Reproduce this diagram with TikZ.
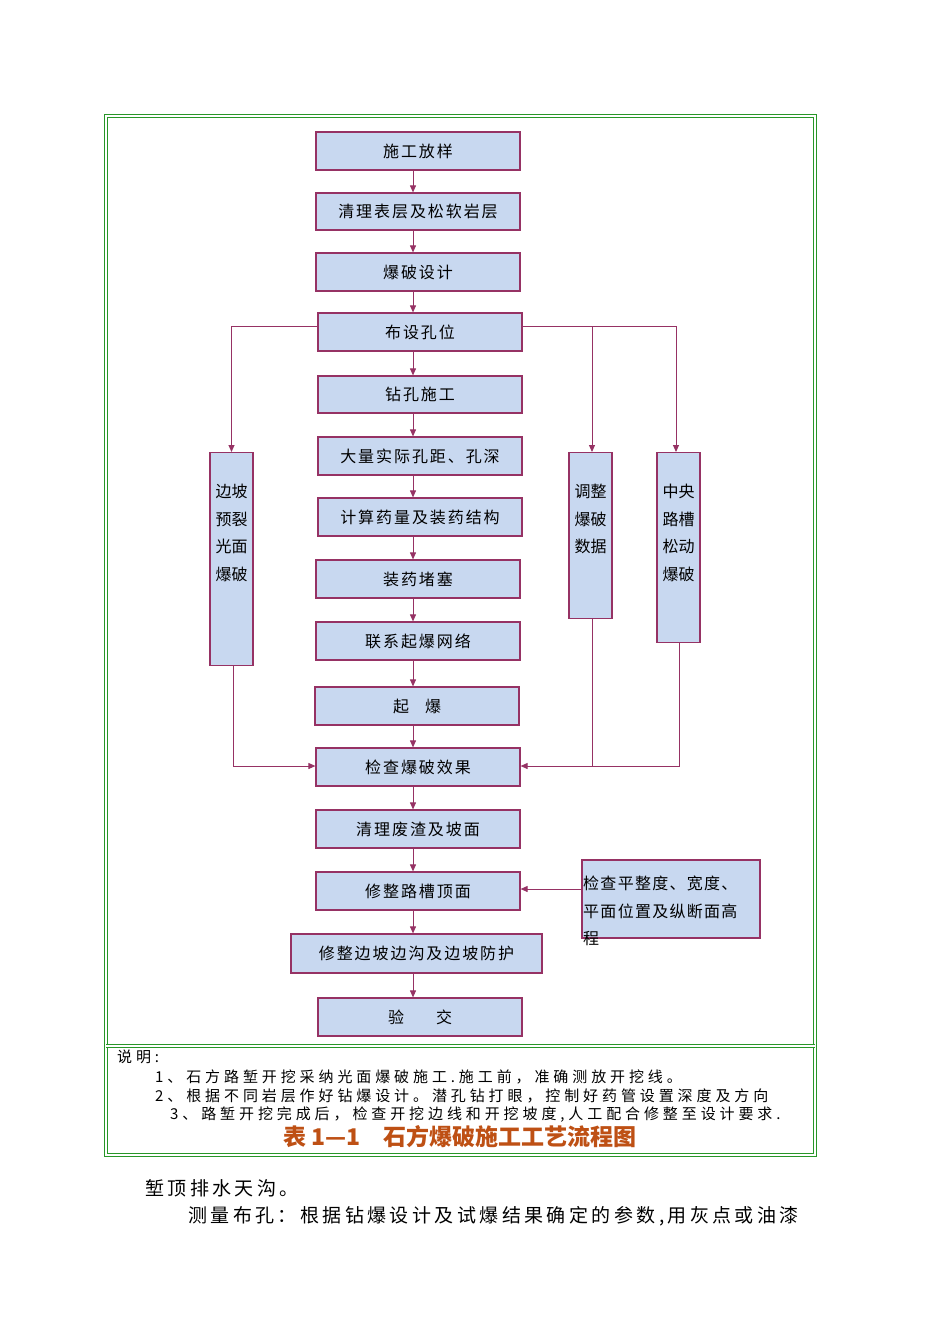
\documentclass[tikz,border=0pt]{standalone}
\usepackage{fontspec}
\setmainfont{Noto Sans CJK SC}
\usetikzlibrary{arrows.meta}
\definecolor{ln}{RGB}{150,50,100}
\definecolor{bf}{RGB}{200,216,240}
\definecolor{gr}{RGB}{40,150,40}
\definecolor{tt}{RGB}{190,80,20}
\begin{document}
\begin{tikzpicture}[x=1pt,y=-1pt,
 bx/.style={draw=ln,line width=1.2pt,fill=bf,font=\fontsize{16}{18}\selectfont\addfontfeature{LetterSpace=12}},
 vt/.style={align=center,font=\fontsize{16}{27.5}\selectfont,anchor=north,inner sep=0pt},
 ar/.style={draw=ln,line width=1pt,-{Triangle[length=7pt,width=6pt]}},
 ln/.style={draw=ln,line width=1pt},
 tx/.style={anchor=west,inner sep=0pt,font=\fontsize{15}{16}\selectfont\addfontfeature{LetterSpace=26}}]
\useasboundingbox (0,0) rectangle (950,1344);
\fill[white] (0,0) rectangle (950,1344);
\draw[gr,double=white,double distance=1.5pt,line width=0.8pt] (106,116) rectangle (815,1155);
\draw[gr,double=white,double distance=1.5pt,line width=0.8pt] (106,1046) -- (815,1046);
\newcommand\bxat[6]{\node[bx,minimum width=#4-#2,minimum height=#5-#3,inner sep=0pt] (#1) at ({(#2+#4)/2},{(#3+#5)/2}) {#6};}
\bxat{a}{316}{132}{520}{170}{施工放样}
\bxat{b}{316}{193}{520}{230}{清理表层及松软岩层}
\bxat{c}{316}{253}{520}{291}{爆破设计}
\bxat{d}{318}{313}{522}{351}{布设孔位}
\bxat{e}{318}{376}{522}{413}{钻孔施工}
\bxat{f}{318}{437}{522}{475}{大量实际孔距、孔深}
\bxat{g}{318}{498}{522}{536}{计算药量及装药结构}
\bxat{h}{316}{560}{520}{598}{装药堵塞}
\bxat{i}{316}{622}{520}{660}{联系起爆网络}
\bxat{j}{315}{687}{519}{725}{起\quad 爆}
\bxat{k}{316}{748}{520}{786}{检查爆破效果}
\bxat{l}{316}{810}{520}{848}{清理废渣及坡面}
\bxat{m}{316}{872}{520}{910}{修整路槽顶面}
\bxat{n}{291}{934}{542}{973}{修整边坡边沟及边坡防护}
\bxat{o}{318}{998}{522}{1036}{验\qquad 交}
\node[bx,minimum width=43,minimum height=213,inner sep=0pt,anchor=north] (s1) at (231.5,452) {};
\node[vt] at (231.5,484) {边坡\\预裂\\光面\\爆破};
\node[bx,minimum width=43,minimum height=166,inner sep=0pt,anchor=north] (s2) at (590.5,452) {};
\node[vt] at (590.5,484) {调整\\爆破\\数据};
\node[bx,minimum width=43,minimum height=190,inner sep=0pt,anchor=north] (s3) at (678.5,452) {};
\node[vt] at (678.5,484) {中央\\路槽\\松动\\爆破};
\node[bx,minimum width=178,minimum height=78,inner sep=0pt] (p) at (671,899) {};
\node[align=left,anchor=north west,inner sep=0pt,font=\fontsize{16}{27.5}\selectfont\addfontfeature{LetterSpace=8}] at (583,876) {检查平整度、宽度、\\平面位置及纵断面高\\程};
\foreach \u/\v in {a/b,b/c,c/d,d/e,e/f,f/g,g/h,h/i,i/j,j/k,k/l,l/m,m/n,n/o}
  \draw[ar] (\u.south-|413,0) -- (\v.north-|413,0);
\draw[ar] (d.west|-0,326) -| (s1.north);
\draw[ln] (d.east|-0,326) -- (676,326);
\draw[ar] (676,326) -- (s3.north-|676,0);
\draw[ar] (592,326) -- (s2.north-|592,0);
\draw[ar] (s1.south-|233,0) |- (k.west|-0,766);
\draw[ln] (s2.south-|592,0) -- (592,766);
\draw[ar] (s3.south-|679,0) |- (k.east|-0,766);
\draw[ar] (p.west|-0,889) -- (m.east|-0,889);
\node[tx] at (117,1057) {说明:};
\node[tx] at (155,1077) {1、石方路堑开挖采纳光面爆破施工.施工前，准确测放开挖线。};
\node[tx] at (155,1096) {2、根据不同岩层作好钻爆设计。潜孔钻打眼，控制好药管设置深度及方向};
\node[tx] at (170,1115) {3、路堑开挖完成后，检查开挖边线和开挖坡度,人工配合修整至设计要求.};
\node[inner sep=0pt,text=tt,font=\fontsize{23}{25}\selectfont\bfseries] at (460,1137) {表 1—1\quad 石方爆破施工工艺流程图};
\node[tx,font=\fontsize{19}{21}\selectfont\addfontfeature{LetterSpace=18}] at (145,1188) {堑顶排水天沟。};
\node[tx,font=\fontsize{19}{21}\selectfont\addfontfeature{LetterSpace=18}] at (188,1216) {测量布孔：根据钻爆设计及试爆结果确定的参数,用灰点或油漆};
\end{tikzpicture}
\end{document}
